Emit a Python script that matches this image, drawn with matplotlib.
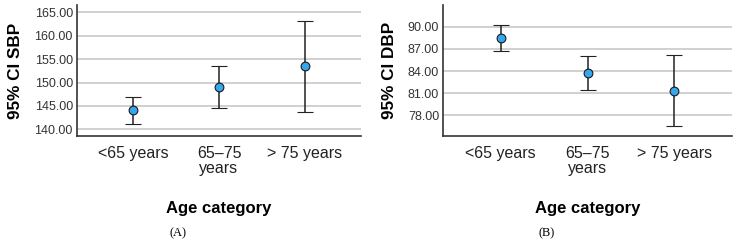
import matplotlib
matplotlib.use("Agg")
import matplotlib.pyplot as plt

categories = ["<65 years", "65\u201375\nyears", "> 75 years"]

sbp_mean = [144.05, 149.05, 153.55]
sbp_low = [141.15, 144.55, 143.8]
sbp_high = [146.95, 153.6, 163.2]
sbp_ticks = [140, 145, 150, 155, 160, 165]

dbp_mean = [88.45, 83.78, 81.35]
dbp_low = [86.7, 81.43, 76.55]
dbp_high = [90.2, 86.08, 86.13]
dbp_ticks = [78, 81, 84, 87, 90]

plt.rcParams['font.family'] = ['Liberation Sans', 'DejaVu Sans']

fig = plt.figure(figsize=(7.40, 2.41), dpi=100)

def panel(rect, means, lows, highs, ticks, ylim, ylabel, caption, cap_x):
    ax = fig.add_axes(rect)
    x = list(range(len(categories)))
    yerr = [[m - l for m, l in zip(means, lows)], [h - m for m, h in zip(means, highs)]]
    ax.errorbar(x, means, yerr=yerr, fmt='o', color='#222222', ecolor='#222222',
                elinewidth=1.1, capsize=5.8, capthick=1.1,
                markerfacecolor='#35A7F0', markeredgecolor='#1a1a1a',
                markersize=6.3, markeredgewidth=0.8, zorder=3)
    ax.set_xlim(-0.66, 2.66)
    ax.set_ylim(*ylim)
    ax.set_yticks(ticks)
    ax.set_yticklabels([f"{t:.2f}" for t in ticks], fontsize=9, color='#333333')
    ax.set_xticks(x)
    ax.set_xticklabels(categories, fontsize=11.5, color='#222222', linespacing=1.05)
    ax.tick_params(axis='both', length=0, pad=3)
    ax.tick_params(axis='x', pad=7)
    ax.yaxis.grid(True, color='#c8c8c8', linewidth=1.2, zorder=0)
    ax.set_axisbelow(True)
    for s in ['top', 'right']:
        ax.spines[s].set_visible(False)
    for s in ['left', 'bottom']:
        ax.spines[s].set_color('#333333')
        ax.spines[s].set_linewidth(1.2)
    ax.set_ylabel(ylabel, fontsize=12.3, fontweight='bold', labelpad=8)
    ax.set_xlabel("Age category", fontsize=12, fontweight='bold', labelpad=18)
    fig.text(cap_x, 1 - 233 / 241, caption, fontsize=9, family='Liberation Serif',
             ha='center', va='center')
    return ax

ax1 = panel([77 / 740, 1 - 136 / 241, 284 / 740, 131 / 241],
            sbp_mean, sbp_low, sbp_high, sbp_ticks, (138.57, 166.56),
            "95% CI SBP", "(A)", 178 / 740)
ax2 = panel([443.3 / 740, 1 - 136 / 241, 288.4 / 740, 131 / 241],
            dbp_mean, dbp_low, dbp_high, dbp_ticks, (75.2, 92.94),
            "95% CI DBP", "(B)", 547 / 740)

fig.savefig("out.png", dpi=100)
